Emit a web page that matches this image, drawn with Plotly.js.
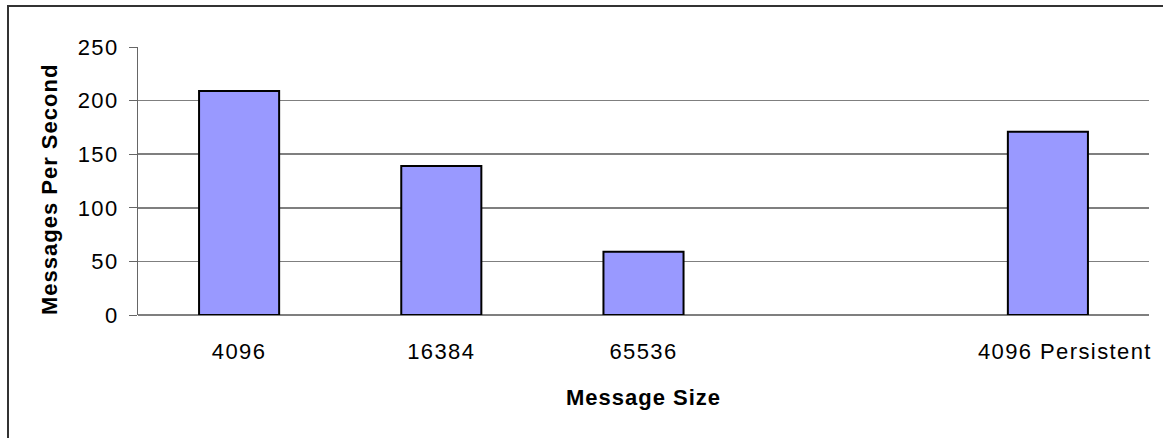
<!DOCTYPE html>
<html>
<head>
<meta charset="utf-8">
<script src="https://cdn.plot.ly/plotly-3.0.1.min.js"></script>
<style>
  html, body { margin: 0; padding: 0; background: #fff; overflow: hidden; }
  #wrap { position: relative; width: 1163px; height: 438px; overflow: hidden; }
  #chart { position: absolute; left: 0; top: 0; width: 1163px; height: 438px; }
  #frame { position: absolute; left: 7px; top: 5px; width: 1200px; height: 500px;
           border: 2px solid #333; pointer-events: none; }
  .xtick text, .ytick text { letter-spacing: 1.4px; }
  .annotation-text { letter-spacing: 1px; }
</style>
</head>
<body>
<div id="wrap">
  <div id="chart"></div>
  <div id="frame"></div>
</div>
<script>
const categories = ['4096', '16384', '65536', ' ', '4096 Persistent'];
const messagesPerSecond = [209, 139, 59, null, 171];
const yTickValues = [0, 50, 100, 150, 200, 250];
const xTitle = 'Message Size';
const yTitle = 'Messages Per Second';

const W = 1163, H = 438;
const M = { l: 138, r: 14, t: 47, b: 123 };
const plotW = W - M.l - M.r, plotH = H - M.t - M.b;
const px2paperX = px => (px - M.l) / plotW;
const px2paperY = py => (H - M.b - py) / plotH;

const trace = {
  type: 'bar',
  x: categories,
  y: messagesPerSecond,
  marker: { color: '#9999FF', line: { color: '#000000', width: 2 } },
  hoverinfo: 'x+y'
};

const titleFont = { family: '"Liberation Sans", Arial, sans-serif', size: 22, weight: 'bold', color: '#000' };

const layout = {
  width: W,
  height: H,
  margin: { l: M.l, r: M.r, t: M.t, b: M.b, pad: 0 },
  paper_bgcolor: '#ffffff',
  plot_bgcolor: '#ffffff',
  bargap: 0.604,
  showlegend: false,
  font: { family: '"Liberation Sans", Arial, sans-serif', color: '#000' },
  xaxis: {
    type: 'category',
    categoryorder: 'array',
    categoryarray: categories,
    showgrid: false,
    ticks: '',
    showline: false,
    zeroline: false,
    tickfont: { size: 22, color: '#000' },
    ticklabelstandoff: 21
  },
  yaxis: {
    range: [0, 250],
    tickvals: yTickValues,
    ticktext: yTickValues.map(String),
    showgrid: true,
    gridcolor: '#7f7f7f',
    gridwidth: 1.5,
    zeroline: true,
    zerolinecolor: '#7f7f7f',
    zerolinewidth: 2,
    showline: true,
    linecolor: '#666',
    linewidth: 1,
    ticks: 'outside',
    ticklen: 8,
    tickcolor: '#666',
    tickwidth: 1,
    tickfont: { size: 22, color: '#000' },
    ticklabelstandoff: 6
  },
  annotations: [
    { text: xTitle, xref: 'paper', yref: 'paper', x: px2paperX(643.5), y: px2paperY(397),
      xanchor: 'center', yanchor: 'middle', showarrow: false, font: titleFont },
    { text: yTitle, xref: 'paper', yref: 'paper', x: px2paperX(50), y: px2paperY(190),
      xanchor: 'center', yanchor: 'middle', textangle: -90, showarrow: false, font: titleFont }
  ]
};

Plotly.newPlot('chart', [trace], layout, { displayModeBar: false, staticPlot: true }).then(gd => {
  const labels = gd.querySelectorAll('.xtick text');
  labels.forEach(t => {
    if (t.textContent === categories[4]) t.setAttribute('dx', '17');
  });
});
</script>
</body>
</html>
